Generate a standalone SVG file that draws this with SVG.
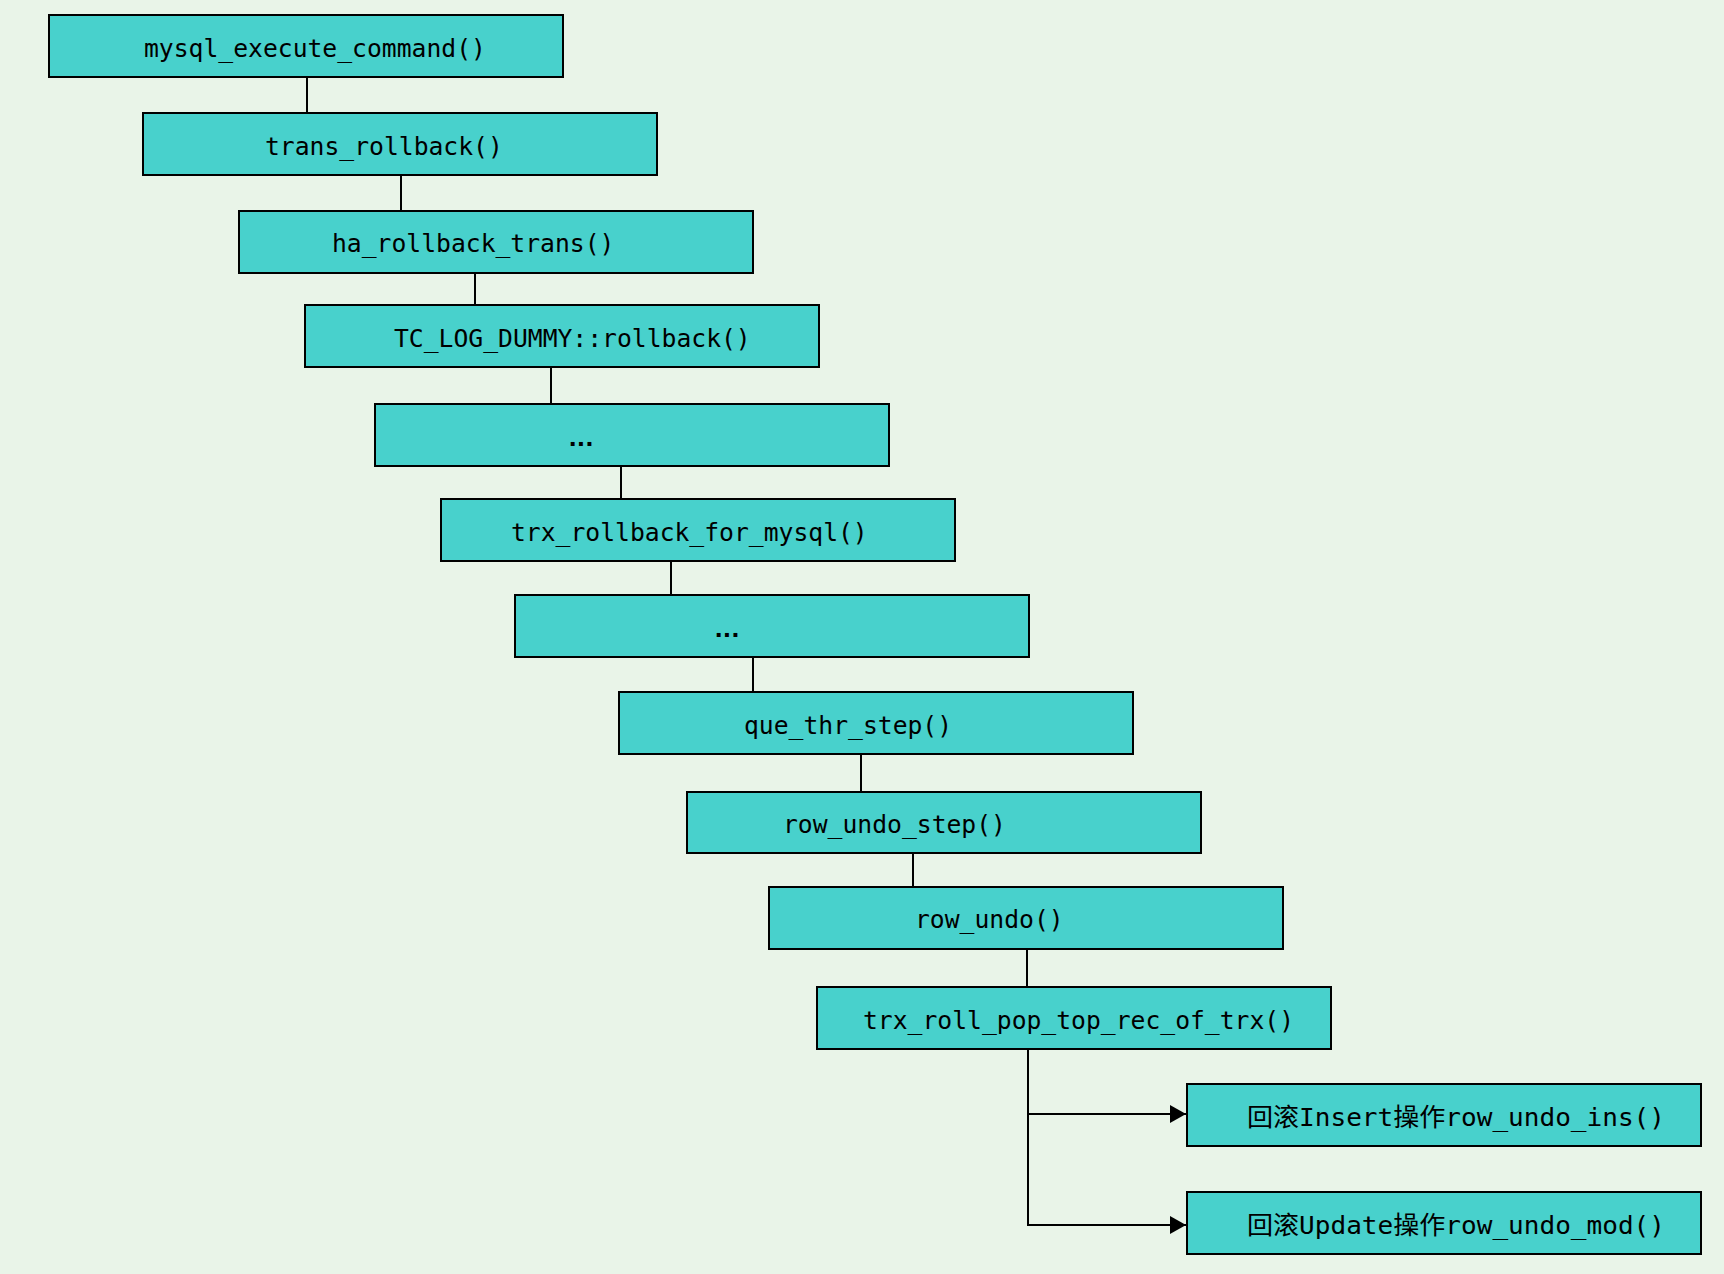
<svg xmlns="http://www.w3.org/2000/svg" width="1724" height="1274" viewBox="0 0 1724 1274">
<style>
.box{fill:#48D1CC;stroke:#000;stroke-width:2}
.t{font-family:"DejaVu Sans Mono","Noto Sans CJK SC",monospace;font-size:24.7px;fill:#000}
.d{font-family:"DejaVu Sans",sans-serif;font-weight:bold;font-size:22px;fill:#000;text-anchor:middle}
.c{fill:none;stroke:#000;stroke-width:2}
</style>
<defs>
<marker id="arr" viewBox="0 0 16 18" refX="16" refY="9" markerWidth="16" markerHeight="18" markerUnits="userSpaceOnUse" orient="auto">
<path d="M0,0 L16,9 L0,18 Z" fill="#000"/>
</marker>
</defs>
<rect width="1724" height="1274" fill="#E9F4E8"/>
<g id="connectors">
<line class="c" x1="307" y1="77" x2="307" y2="113"/>
<line class="c" x1="401" y1="175" x2="401" y2="211"/>
<line class="c" x1="475" y1="273" x2="475" y2="305"/>
<line class="c" x1="551" y1="367" x2="551" y2="404"/>
<line class="c" x1="621" y1="466" x2="621" y2="499"/>
<line class="c" x1="671" y1="561" x2="671" y2="595"/>
<line class="c" x1="753" y1="657" x2="753" y2="692"/>
<line class="c" x1="861" y1="753" x2="861" y2="792"/>
<line class="c" x1="913" y1="853" x2="913" y2="887"/>
<line class="c" x1="1027" y1="949" x2="1027" y2="987"/>
<polyline class="c" points="1028,1049 1028,1114 1186,1114" marker-end="url(#arr)"/>
<polyline class="c" points="1028,1114 1028,1225 1186,1225" marker-end="url(#arr)"/>
</g>
<g id="n1"><rect class="box" x="49" y="15" width="514" height="62"/><text class="t" x="144" y="57">mysql_execute_command()</text></g>
<g id="n2"><rect class="box" x="143" y="113" width="514" height="62"/><text class="t" x="265" y="155">trans_rollback()</text></g>
<g id="n3"><rect class="box" x="239" y="211" width="514" height="62"/><text class="t" x="332" y="252">ha_rollback_trans()</text></g>
<g id="n4"><rect class="box" x="305" y="305" width="514" height="62"/><text class="t" x="394" y="347">TC_LOG_DUMMY::rollback()</text></g>
<g id="n5"><rect class="box" x="375" y="404" width="514" height="62"/><text class="d" x="581" y="446">...</text></g>
<g id="n6"><rect class="box" x="441" y="499" width="514" height="62"/><text class="t" x="511" y="541">trx_rollback_for_mysql()</text></g>
<g id="n7"><rect class="box" x="515" y="595" width="514" height="62"/><text class="d" x="727" y="637">...</text></g>
<g id="n8"><rect class="box" x="619" y="692" width="514" height="62"/><text class="t" x="744" y="734">que_thr_step()</text></g>
<g id="n9"><rect class="box" x="687" y="792" width="514" height="61"/><text class="t" x="783" y="833">row_undo_step()</text></g>
<g id="n10"><rect class="box" x="769" y="887" width="514" height="62"/><text class="t" x="915" y="928">row_undo()</text></g>
<g id="n11"><rect class="box" x="817" y="987" width="514" height="62"/><text class="t" x="863" y="1029">trx_roll_pop_top_rec_of_trx()</text></g>
<g id="n12"><rect class="box" x="1187" y="1084" width="514" height="62"/><text class="t" x="1247" y="1126" textLength="418" lengthAdjust="spacingAndGlyphs">回滚Insert操作row_undo_ins()</text></g>
<g id="n13"><rect class="box" x="1187" y="1192" width="514" height="62"/><text class="t" x="1247" y="1234" textLength="418" lengthAdjust="spacingAndGlyphs">回滚Update操作row_undo_mod()</text></g>
</svg>
